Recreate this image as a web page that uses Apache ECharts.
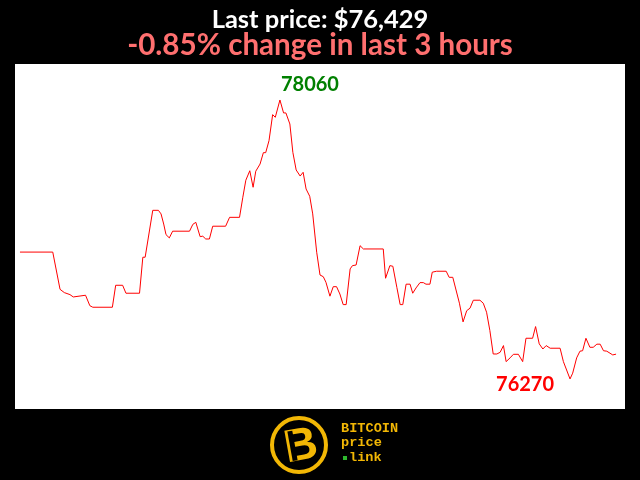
<!DOCTYPE html>
<html>
<head>
<meta charset="utf-8">
<script src="https://cdn.jsdelivr.net/npm/echarts@6/dist/echarts.min.js"></script>
<style>html,body{margin:0;padding:0;background:#000;}#c{width:640px;height:480px;}</style>
</head>
<body>
<div id="c"></div>
<script>
// minutes since start of the 3-hour window
const minutes = [0, 9.9, 12.1, 13.4, 15.1, 16.1, 16.7, 19.8, 21.1, 22.0, 27.9, 28.9, 31.0, 32.0, 36.1, 37.1, 37.8, 40.1, 41.8, 42.6,
  43.4, 44.1, 45.1, 46.1, 51.2, 52.2, 53.1, 54.4, 55.2, 56.1, 57.2, 58.2, 62.1, 63.3, 66.3, 67.3, 68.2, 69.4, 70.4, 71.2,
  72.5, 73.5, 74.2, 75.2, 76.3, 77.1, 78.5, 79.6, 80.3, 81.5, 82.4, 83.4, 84.6, 85.5, 86.4, 87.5, 88.4, 89.6, 90.6, 91.6,
  92.4, 93.6, 94.6, 95.6, 96.6, 97.6, 98.5, 99.7, 100.4, 101.5, 102.7, 103.7, 109.7, 110.4, 111.7, 112.6, 113.8, 114.8, 115.6, 116.6,
  117.8, 118.6, 119.6, 120.8, 121.8, 122.6, 123.8, 124.5, 125.8, 128.7, 129.6, 130.7, 132.7, 133.8, 134.9, 135.9, 136.9, 138.9, 139.9, 140.9,
  141.9, 142.9, 144.0, 145.0, 146.0, 146.8, 148.0, 149.0, 150.5, 151.8, 152.8, 154.8, 155.7, 156.8, 157.9, 158.9, 160.1, 163.1, 164.1, 166.1,
  166.9, 168.1, 169.1, 169.9, 170.9, 172.1, 173.1, 174.2, 175.2, 176.2, 177.2, 179.0, 180.0];
const prices = [77084, 77084, 76845, 76824, 76811, 76796, 76807, 76807, 76740, 76730, 76730, 76871, 76871, 76820, 76820, 77051, 77051, 77352, 77352, 77329,
  77264, 77196, 77175, 77218, 77218, 77262, 77275, 77183, 77186, 77168, 77168, 77250, 77250, 77307, 77307, 77436, 77545, 77606, 77500, 77603,
  77649, 77722, 77722, 77799, 77966, 77949, 78060, 77977, 77977, 77906, 77724, 77611, 77572, 77596, 77489, 77442, 77329, 77083, 76937, 76926,
  76890, 76801, 76862, 76862, 76815, 76747, 76747, 76976, 76997, 77001, 77125, 77104, 77104, 76916, 76997, 76993, 76858, 76747, 76747, 76878,
  76878, 76820, 76854, 76888, 76888, 76878, 76878, 76955, 76961, 76961, 76922, 76922, 76756, 76636, 76708, 76724, 76775, 76775, 76756, 76698,
  76580, 76430, 76430, 76441, 76484, 76381, 76405, 76428, 76428, 76381, 76531, 76531, 76606, 76495, 76462, 76484, 76467, 76467, 76381, 76270,
  76307, 76405, 76448, 76451, 76531, 76473, 76473, 76493, 76493, 76451, 76448, 76424, 76429];
const titleText = 'Last price: $76,429';
const subtitleText = '-0.85% change in last 3 hours';

const chart = echarts.init(document.getElementById('c'), null, {renderer: 'canvas'});
const seriesData = minutes.map((m, i) => [m, prices[i]]);
const FONT = 'Lato';
chart.setOption({
  animation: false,
  backgroundColor: '#000',
  title: [
    {text: titleText, left: 'center', top: 2, textStyle: {color: '#fff', fontFamily: FONT, fontWeight: 'bold', fontSize: 25.5}},
    {text: subtitleText, left: 'center', top: 25, textStyle: {color: '#ff6f6f', fontFamily: FONT, fontWeight: 'bold', fontSize: 29.6}}
  ],
  grid: {left: 15, right: 15, top: 64, bottom: 71, show: true, backgroundColor: '#fff', borderWidth: 0},
  xAxis: {type: 'value', min: -1.5, max: 182.7, show: false},
  yAxis: {type: 'value', min: 76077, max: 78291, show: false},
  series: [{
    type: 'line',
    data: seriesData,
    showSymbol: false,
    lineStyle: {color: '#ff0000', width: 1},
    itemStyle: {color: '#ff0000'},
    markPoint: {
      symbol: 'circle',
      symbolSize: 0,
      data: [
        {type: 'max', label: {show: true, position: 'inside', align: 'left', verticalAlign: 'bottom', offset: [1, -5],
          color: '#008000', fontFamily: FONT, fontWeight: 'bold', fontSize: 20, formatter: p => String(p.value)}},
        {type: 'min', label: {show: true, position: 'inside', align: 'right', verticalAlign: 'top', offset: [-16, -4],
          color: '#ff0000', fontFamily: FONT, fontWeight: 'bold', fontSize: 20, formatter: p => String(p.value)}}
      ]
    }
  }],
  graphic: [
    {type: 'circle', shape: {cx: 299, cy: 445, r: 27}, style: {fill: '#000', stroke: '#f2b705', lineWidth: 4}},
    {type: 'text', x: 301, y: 447, rotation: 0.18, style: {text: 'B', fill: '#f2b705', font: 'bold 46px "Liberation Sans"', align: 'center', verticalAlign: 'middle'}},
    {type: 'rect', shape: {x: 290, y: 431, width: 5, height: 30}, rotation: 0.18, originX: 292, originY: 446, style: {fill: '#000'}},
    {type: 'text', x: 341, y: 429, style: {text: 'BITCOIN', fill: '#f2b705', font: 'bold 13.6px "Liberation Mono"', verticalAlign: 'middle'}},
    {type: 'text', x: 341, y: 443, style: {text: 'price', fill: '#f2b705', font: 'bold 13.6px "Liberation Mono"', verticalAlign: 'middle'}},
    {type: 'rect', shape: {x: 343, y: 456, width: 4, height: 4}, style: {fill: '#2eb82e'}},
    {type: 'text', x: 349, y: 458, style: {text: 'link', fill: '#f2b705', font: 'bold 13.6px "Liberation Mono"', verticalAlign: 'middle'}}
  ]
});
</script>
</body>
</html>
